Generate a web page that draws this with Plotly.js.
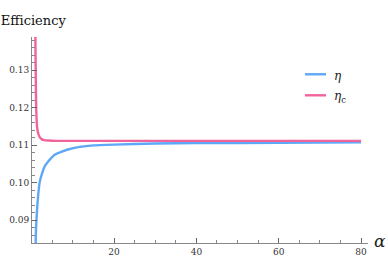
<!DOCTYPE html>
<html>
<head>
<meta charset="utf-8">
<script src="https://cdn.plot.ly/plotly-3.0.1.min.js"></script>
<style>html,body{margin:0;padding:0;background:#fff;}#chart{width:388px;height:274px;}</style>
</head>
<body>
<div id="chart"></div>
<script>
// alpha values and series
const alphaEta = [0.95, 0.97, 1.1, 1.36, 1.6, 1.94, 2.5, 3.16, 4, 5.6, 8.8, 11.7, 15, 20, 30, 40, 60, 80];
const eta      = [0.0825, 0.0849, 0.0890, 0.0938, 0.0970, 0.1001, 0.1024, 0.1043, 0.1056, 0.1074, 0.1088, 0.1095, 0.1099, 0.1101, 0.1104, 0.1105, 0.1106, 0.1107];
const alphaEtaC = [0.88, 0.95, 1.0, 1.05, 1.1, 1.2, 1.36, 1.6, 1.94, 2.5, 3, 4, 6, 10, 20, 40, 60, 80];
const etaC      = [0.1400, 0.1320, 0.1265, 0.1228, 0.1195, 0.1165, 0.1143, 0.1130, 0.1121, 0.1115, 0.1113, 0.1112, 0.1111, 0.1111, 0.1111, 0.1111, 0.1111, 0.1111];
const seriesNames = ['<i>η</i>', '<i>η</i><sub>c</sub>'];
const seriesColors = ['#5EA8F7', '#F0649C'];
const xTicks = [20, 40, 60, 80];

const serif = 'DejaVu Serif';

const traces = [
  {x: alphaEta, y: eta, mode: 'lines', line: {color: seriesColors[0], width: 2.4, shape: 'spline', smoothing: 0.4}, showlegend: false},
  {x: alphaEtaC, y: etaC, mode: 'lines', line: {color: seriesColors[1], width: 2.4, shape: 'spline', smoothing: 0.4}, showlegend: false}
];

const legendY = [0.819, 0.717];
const shapes = legendY.map((y, i) => ({
  type: 'line', xref: 'paper', yref: 'paper', x0: 0.8125, x1: 0.875, y0: y, y1: y,
  line: {color: seriesColors[i], width: 2.4}
}));
const annotations = legendY.map((y, i) => ({
  xref: 'paper', yref: 'paper', x: 0.893, y: y - 0.01, xanchor: 'left', yanchor: 'middle',
  text: seriesNames[i], showarrow: false, font: {family: serif, size: 12, color: '#222'}
}));
annotations.push({
  xref: 'paper', yref: 'paper', x: 1.036, y: 0.01, xanchor: 'center', yanchor: 'middle',
  text: '<i>α</i>', showarrow: false, font: {family: serif, size: 17, color: '#222'}
});

const layout = {
  width: 388, height: 274,
  margin: {l: 32, r: 20, t: 37, b: 31},
  paper_bgcolor: '#fff', plot_bgcolor: '#fff',
  font: {family: serif},
  title: {text: 'Efficiency', x: 0.002, xanchor: 'left', xref: 'container', y: 1 - 20 / 274, yanchor: 'middle', font: {family: serif, size: 13, color: '#111'}},
  xaxis: {
    range: [0.07, 81.69], showgrid: false, zeroline: false,
    showline: true, linecolor: '#888', linewidth: 1,
    tickmode: 'linear', tick0: 0, dtick: 20,
    ticks: 'inside', ticklen: 5, tickcolor: '#666', tickwidth: 1,
    minor: {dtick: 5, tick0: 0, ticks: 'inside', ticklen: 3, tickcolor: '#888', tickwidth: 1, showgrid: false},
    tickfont: {family: serif, size: 9, color: '#333'}
  },
  yaxis: {
    range: [0.08387, 0.13880], showgrid: false, zeroline: false,
    showline: true, linecolor: '#888', linewidth: 1,
    tickmode: 'linear', tick0: 0, dtick: 0.01, tickformat: '.2f',
    ticks: 'inside', ticklen: 5, tickcolor: '#666', tickwidth: 1,
    minor: {dtick: 0.002, tick0: 0, ticks: 'inside', ticklen: 3, tickcolor: '#888', tickwidth: 1, showgrid: false},
    tickfont: {family: serif, size: 9, color: '#333'}
  },
  shapes: shapes,
  annotations: annotations
};

Plotly.newPlot('chart', traces, layout, {displayModeBar: false, staticPlot: true});
</script>
</body>
</html>
